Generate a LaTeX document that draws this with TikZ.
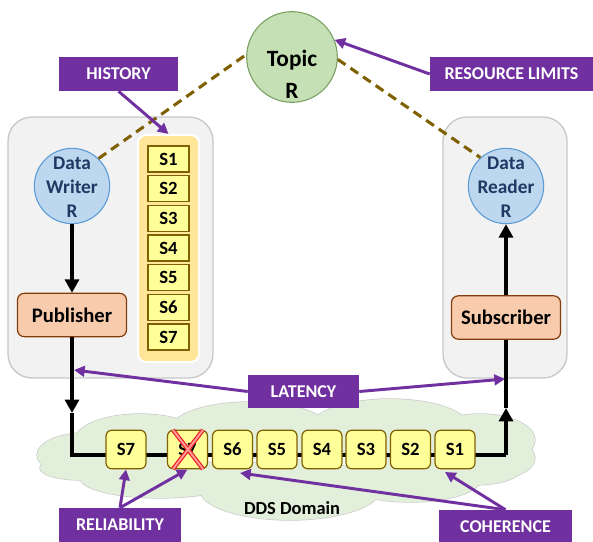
\documentclass[tikz,border=0pt]{standalone}
\usepackage{fontspec}
\setmainfont{Carlito}
\usetikzlibrary{arrows.meta,calc}
\definecolor{purp}{HTML}{7030A0}
\definecolor{olivedash}{HTML}{7F6000}
\definecolor{panelf}{HTML}{F2F2F2}
\definecolor{panelb}{HTML}{C8C8C8}
\definecolor{sfill}{HTML}{FFFF99}
\definecolor{sbord}{HTML}{806000}
\definecolor{qfill}{HTML}{FFE699}
\definecolor{bluef}{HTML}{BDD7EE}
\definecolor{blueb}{HTML}{5B9BD5}
\definecolor{navy}{HTML}{1F3864}
\definecolor{greenf}{HTML}{C5E0B4}
\definecolor{greenb}{HTML}{7A9E62}
\definecolor{peachf}{HTML}{F8CBAD}
\definecolor{peachb}{HTML}{843C0C}
\definecolor{cloudf}{HTML}{E2EFDA}
\definecolor{cloudb}{HTML}{C9C9C9}
\definecolor{xred}{HTML}{E82020}
\definecolor{xpink}{HTML}{FF9A9A}
\begin{document}
\begin{tikzpicture}[x=0.75pt,y=-0.75pt,
  panel/.style={draw=panelb,fill=panelf,line width=1pt,rounded corners=18pt},
  sbox/.style={draw=sbord,fill=sfill,line width=0.9pt,minimum width=30.75pt,minimum height=19.5pt,inner sep=0pt,font=\bfseries\fontsize{14}{16}\selectfont},
  rbox/.style={sbox,rounded corners=4.5pt,minimum width=30pt,minimum height=29pt},
  flow/.style={line width=2.3pt,draw=black},
  tipb/.style={-{Triangle[width=10.5pt,length=10pt]}},
  tag/.style={fill=purp,text=white,inner sep=0pt,minimum height=25.5pt,font=\bfseries\fontsize{13.5}{16}\selectfont},
  parrow/.style={draw=purp,line width=2.2pt,-{Triangle[width=8pt,length=8pt]}},
  topicdash/.style={draw=olivedash,line width=2.3pt,dash pattern=on 7pt off 4.5pt},
  bluecirc/.style={circle,draw=blueb,fill=bluef,line width=0.8pt,minimum size=56.5pt,inner sep=0pt},
  bluetxt/.style={align=center,text=navy,font=\bfseries\fontsize{14.5}{18}\selectfont},
  peachbox/.style={draw=peachb,fill=peachf,line width=0.9pt,rounded corners=5pt,minimum width=81.75pt,minimum height=32.5pt,inner sep=0pt,font=\bfseries\fontsize{15.5}{18}\selectfont},
  cloudline/.style={draw=cloudb,line width=1pt},
  xline/.style={line width=3.2pt,draw=xred},
  xinner/.style={line width=1.4pt,draw=xpink}
]
\useasboundingbox (0,0) rectangle (593,542);

% panels
\draw[panel] (8,117) rectangle (213,378);
\draw[panel] (443,117) rectangle (567,378);

% topic and endpoints
\node[circle,draw=greenb,fill=greenf,line width=0.8pt,minimum size=68pt,inner sep=0pt] (topic) at (292,57) {};
\node[align=center,font=\bfseries\fontsize{17.5}{24}\selectfont] (topictxt) at (292,74) {Topic\\R};
\node[bluecirc] (writer) at (72,186) {};
\node[bluetxt] (writertxt) at (72,187) {Data\\Writer\\R};
\node[bluecirc] (reader) at (506,186) {};
\node[bluetxt] (readertxt) at (506,187) {Data\\Reader\\R};

\draw[topicdash] (writer.46) -- (topic.177);
\draw[topicdash] (topic.357) -- (reader.132);

% history queue
\node[fill=qfill,draw=white,line width=1.5pt,rounded corners=6pt,minimum width=45.75pt,minimum height=170.25pt,inner sep=0pt] (queue) at (168.5,248.5) {};
\foreach \i in {1,...,7}{
  \node[sbox] (q\i) at (168.5,{159+29.67*(\i-1)}) {S\i};
}

% publisher / subscriber
\node[peachbox] (pub) at (72,315) {Publisher};
\node[peachbox] (sub) at (506,317.5) {Subscriber};

% cloud
\foreach \cx/\cy/\rx/\ry in {85/455/36/16.5,140/440/48.75/19.5,250/430/60/21,390/428/60/21.75,480/440/41.25/19.5,490/458/33.75/16.5,475/470/33.75/11.25,410/480/52.5/16.5,290/490/67.5/22.5,160/478/60/15,80/468/30/9}{
  \draw[cloudline] (\cx,\cy) ellipse [x radius=\rx pt, y radius=\ry pt];
}
\foreach \cx/\cy/\rx/\ry in {85/455/36/16.5,140/440/48.75/19.5,250/430/60/21,390/428/60/21.75,480/440/41.25/19.5,490/458/33.75/16.5,475/470/33.75/11.25,410/480/52.5/16.5,290/490/67.5/22.5,160/478/60/15,80/468/30/9}{
  \fill[cloudf] (\cx,\cy) ellipse [x radius=\rx pt, y radius=\ry pt];
}
\node[font=\bfseries\fontsize{13.8}{16}\selectfont] (dds) at (292,508) {DDS Domain};

% flow lines
\coordinate (mdl) at (72,413);
\coordinate (dl) at (72,455);
\coordinate (dr) at (506,455);
\coordinate (mdr) at (506,408);
\draw[flow,tipb] (writer.south) -- (pub.north);
\draw[flow,tipb] (pub.south) -- (mdl);
\draw[flow] (mdl) -- (dl) -- (dr);
\draw[flow,tipb] (dr) -- (mdr);
\draw[flow] (mdr) -- (sub.south);
\draw[flow,tipb] (sub.north) -- (reader.south);

% samples in domain
\node[rbox] (b7) at (126,449.5) {S7};
\node[rbox] (bx) at (187.5,449.5) {S7};
\node[rbox] (b6) at (232.5,449.5) {S6};
\node[rbox] (b5) at (277,449.5) {S5};
\node[rbox] (b4) at (322,449.5) {S4};
\node[rbox] (b3) at (366,449.5) {S3};
\node[rbox] (b2) at (410.5,449.5) {S2};
\node[rbox] (b1) at (455,449.5) {S1};
\draw[xline] (173,430) -- (203,469);
\draw[xline] (203,430) -- (173,469);
\draw[xinner] (173,430) -- (203,469);
\draw[xinner] (203,430) -- (173,469);

% purple tags
\node[tag,minimum width=89.25pt] (hist) at (118.5,74) {HISTORY};
\node[tag,minimum width=122.25pt] (res) at (511.5,74) {RESOURCE LIMITS};
\node[tag,minimum width=83.25pt,minimum height=24.75pt] (lat) at (303.5,391.5) {LATENCY};
\node[tag,minimum width=91.5pt] (rel) at (120,525) {RELIABILITY};
\node[tag,minimum width=99.75pt] (coh) at (505.5,527) {COHERENCE};

\coordinate (latL) at (74,370);
\coordinate (latR) at (505,379);
\coordinate (c1tip) at (445,472);
\coordinate (c6tip) at (240,473);
\draw[parrow] (hist.south) -- (queue.north);
\draw[parrow] (res.west) -- (topic.22);
\draw[parrow] (lat.west) -- (latL);
\draw[parrow] (lat.east) -- (latR);
\draw[parrow] (rel.north) -- (b7.south);
\draw[parrow] (rel.north) -- (bx.south);
\draw[parrow] (coh.north) -- (c1tip);
\draw[parrow] (coh.north) -- (c6tip);
\end{tikzpicture}
\end{document}
